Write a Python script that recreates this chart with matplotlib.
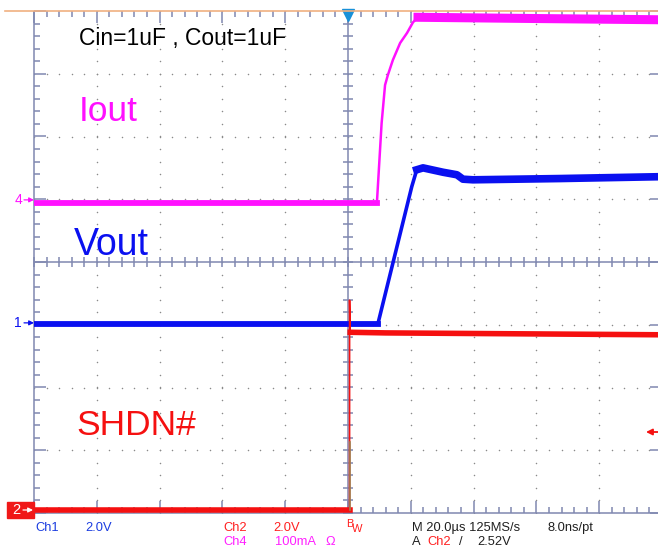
import numpy as np
import matplotlib.pyplot as plt
from matplotlib.collections import LineCollection
from matplotlib.patches import Rectangle, FancyArrowPatch

plt.rcParams['font.family'] = ['Liberation Sans', 'DejaVu Sans']

# Traces: time in us (20 us/div, trigger at 0), amplitude in divisions
iout_t = [-100, 9.2, 10.7, 11.8, 12.7, 14.3, 16.6, 18.8, 20.7, 22.3, 60, 100]
iout_y = [0.94, 0.94, 2.21, 2.82, 2.98, 3.22, 3.49, 3.65, 3.82, 3.90, 3.88, 3.86]

vout_t = [-100, 9.5, 20.3, 21.9, 23.9, 30.3, 34.7, 36.6, 39.8, 67.5, 100]
vout_y = [-0.99, -0.99, 1.20, 1.47, 1.50, 1.43, 1.39, 1.32, 1.31, 1.33, 1.36]

shdn_t = [-100, 0.5, 0.5, 0.7, 12, 100]
shdn_y = [-3.96, -3.96, -0.61, -1.12, -1.13, -1.16]

# Ground markers (div) and labels
ch_markers = {'4': 0.99, '1': -0.97}
row1 = [('Ch1', 35, '#1a3ce0'), ('2.0V', 85, '#1a3ce0'), ('Ch2', 223, '#ff2020'),
        ('2.0V', 273, '#ff2020'), ('M 20.0\u00b5s 125MS/s', 412, '#202020'),
        ('8.0ns/pt', 548, '#202020')]
row2 = [('Ch4', 223, '#ff20ff'), ('100mA', 275, '#ff20ff'), ('\u03a9', 325, '#ff20ff'),
        ('A', 412, '#202020'), ('Ch2', 427, '#ff2020'), ('/', 459, '#202020'),
        ('2.52V', 477, '#202020')]

W, H = 658, 550
MAG = '#ff10ff'
BLU = '#0a10f0'
RED = '#f51010'
FRAME = '#8088b0'


def fx(x):
    return x / W


def fy(y):
    return 1 - y / H


def arrow(x0, x1, y, col, lw=0.9, ms=7):
    a = FancyArrowPatch((fx(x0), fy(y)), (fx(x1), fy(y)), transform=fig.transFigure,
                        arrowstyle='-|>', mutation_scale=ms, color=col, lw=lw,
                        shrinkA=0, shrinkB=0, zorder=8)
    fig.add_artist(a)


fig = plt.figure(figsize=(W / 100, H / 100), dpi=100)
ax = fig.add_axes([34 / W, 37 / H, 628 / W, 502 / H])
ax.set_xlim(-100, 100)
ax.set_ylim(-4, 4)
ax.axis('off')

dxp = 200 / 628  # data per pixel in x
dyp = 8 / 502    # data per pixel in y

# dotted graticule
xs_minor = np.arange(-100, 100.1, 4)
ys_minor = np.arange(-4, 4.01, 0.2)
gx, gy = [], []
for x in [-80, -60, -40, -20, 20, 40, 60, 80]:
    gx += [x] * len(ys_minor)
    gy += list(ys_minor)
for y in [-3, -2, -1, 1, 2, 3]:
    gx += list(xs_minor)
    gy += [y] * len(xs_minor)
ax.scatter(gx, gy, s=1.2, color='#8a8a8a', lw=0, zorder=1)

# frame and centre cross with ticks
segs = []
segs.append([(-100, -4), (-100, 4)])
segs.append([(-100, -4), (100, -4)])
segs.append([(0, -4), (0, 4)])
segs.append([(-100, 0), (100, 0)])
for y in ys_minor:
    major = abs(y - round(y)) < 1e-6
    L = 12 if major else 6
    segs.append([(-100, y), (-100 + L * dxp, y)])
    segs.append([(-5 * dxp, y), (5 * dxp, y)])
    if major:
        segs.append([(100 - 12 * dxp, y), (100, y)])
for x in xs_minor:
    major = abs(x / 20 - round(x / 20)) < 1e-6
    L = 12 if major else 6
    segs.append([(x, 4), (x, 4 - L * dyp)])
    segs.append([(x, -4), (x, -4 + L * dyp)])
    segs.append([(x, -5 * dyp), (x, 5 * dyp)])
ax.add_collection(LineCollection(segs, colors=FRAME, linewidths=1.1, zorder=2, clip_on=False))

# top border line
fig.add_artist(plt.Line2D([fx(5), 1], [fy(10.5), fy(10.5)], color='#f0b080', lw=1.2))

# trigger marker
ax.plot([0], [4 - 3.5 * dyp], marker='v', ms=8, color='#1890d8', clip_on=False, zorder=5)

# traces
ax.plot(vout_t, vout_y, color=BLU, lw=2.6, zorder=3, solid_joinstyle='miter')
ax.plot(vout_t[:2], vout_y[:2], color=BLU, lw=4.2, zorder=3)
ax.plot(vout_t[3:], vout_y[3:], color=BLU, lw=5.5, zorder=3)

ax.plot(shdn_t[:2], shdn_y[:2], color=RED, lw=4.0, zorder=4)
ax.plot(shdn_t[1:4], shdn_y[1:4], color=RED, lw=1.2, zorder=4)
ax.plot(shdn_t[3:], shdn_y[3:], color=RED, lw=4.0, zorder=4)
ax.plot([shdn_t[1], shdn_t[1]], [shdn_y[0], -2.87], color='#a08050', lw=1.2, zorder=4)

ax.plot(iout_t, iout_y, color=MAG, lw=1.8, zorder=3)
ax.plot(iout_t[:2], iout_y[:2], color=MAG, lw=4.2, zorder=3)
ax.plot(iout_t[9:], iout_y[9:], color=MAG, lw=6.5, zorder=3)

# annotations inside the screen
fig.text(fx(79), fy(45), 'Cin=1uF , Cout=1uF', fontsize=16.5, color='black', va='baseline')
fig.text(fx(79), fy(121), 'Iout', fontsize=25.5, color=MAG, va='baseline')
fig.text(fx(74), fy(255), 'Vout', fontsize=27, color=BLU, va='baseline')
fig.text(fx(76), fy(435), 'SHDN#', fontsize=25.5, color=RED, va='baseline')

# channel ground markers
for lab, yv in ch_markers.items():
    col = MAG if lab == '4' else BLU
    ypx = 262 - yv * 502 / 8
    fig.text(fx(22), fy(ypx), lab, fontsize=10, color=col, ha='right', va='center')
    arrow(24, 34, ypx, col)

fig.add_artist(Rectangle((fx(7), fy(518)), 27 / W, 16 / H, transform=fig.transFigure,
                         color='#f01818', zorder=6))
fig.text(fx(20), fy(510), '2', fontsize=10.5, color='white', ha='right', va='center', zorder=7)
arrow(23, 33, 510, 'white')

# trigger level arrow on the right
arrow(660, 646, 432, RED, lw=1.3, ms=9)

# bottom readout
for txt, x, col in row1:
    fig.text(fx(x), fy(531), txt, fontsize=9.3, color=col, va='baseline')
for txt, x, col in row2:
    fig.text(fx(x), fy(545), txt, fontsize=9.3, color=col, va='baseline')
fig.text(fx(346), fy(527), 'B', fontsize=8, color='#ff2020', va='baseline')
fig.text(fx(352), fy(532), 'W', fontsize=8, color='#ff2020', va='baseline')

fig.savefig('out.png', dpi=100, facecolor='white')
